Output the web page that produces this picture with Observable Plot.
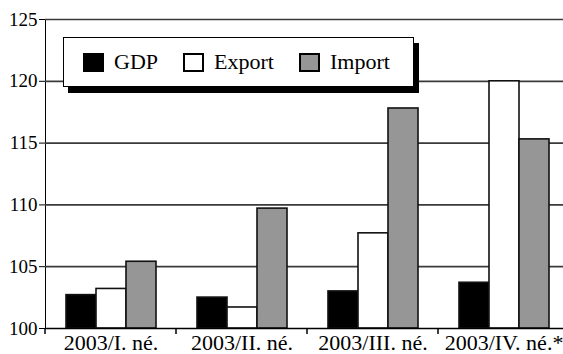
<!DOCTYPE html>
<html>
<head>
<meta charset="utf-8">
<script src="https://cdn.jsdelivr.net/npm/d3@7"></script>
<script src="https://cdn.jsdelivr.net/npm/@observablehq/plot@0.6"></script>
<style>
  html, body { margin: 0; padding: 0; background: #fff; overflow: hidden; }
  #wrap { position: relative; width: 563px; height: 354px; font-family: "Liberation Serif", "Times New Roman", serif; }
  #legend { position: absolute; left: 63px; top: 37px; width: 349px; height: 48px; background: #fff;
            border: 1.5px solid #000; box-shadow: 5px 6px 0 #000; }
  .item { position: absolute; top: 0; height: 48px; display: flex; align-items: center; font-size: 22px; }
  .sw { width: 17px; height: 15px; border: 2px solid #000; margin-right: 10px; }
</style>
</head>
<body>
<div id="wrap"></div>
<script>
const quarters = ["2003/I. né.", "2003/II. né.", "2003/III. né.", "2003/IV. né.*"];
const series = ["GDP", "Export", "Import"];
const gdp = [102.7, 102.5, 103.0, 103.7];
const exportV = [103.2, 101.7, 107.7, 120.0];
const importV = [105.4, 109.7, 117.8, 115.3];
const colors = ["#000000", "#ffffff", "#969696"];
const yTicks = [100, 105, 110, 115, 120, 125];

const values = {GDP: gdp, Export: exportV, Import: importV};
const rows = [];
quarters.forEach((q, i) => series.forEach(s => rows.push({q, s, v: values[s][i]})));

const plot = Plot.plot({
  width: 563,
  height: 354,
  marginLeft: 45,
  marginRight: -6,
  marginTop: 19,
  marginBottom: 26,
  style: {fontFamily: "'Liberation Serif', 'Times New Roman', serif", fontSize: "19px", color: "#000", background: "#fff"},
  fx: {domain: quarters, paddingInner: 0, paddingOuter: 0, axis: "bottom", tickSize: 0, tickPadding: 6, label: null},
  x: {domain: series, paddingInner: 0, paddingOuter: 0.683, axis: null},
  y: {domain: [100, 125], ticks: yTicks, tickSize: 6, tickPadding: 2, label: null, line: true},
  color: {domain: series, range: colors},
  marks: [
    Plot.ruleY(yTicks.slice(1), {stroke: "#3a3a3a", strokeWidth: 1.7}),
    Plot.barY(rows, {fx: "q", x: "s", y1: 100, y2: "v", fill: "s", stroke: "#111", strokeWidth: 1.6}),
    Plot.ruleY([100], {stroke: "#000", strokeWidth: 1.6})
  ]
});

const svg = d3.select(plot);
svg.selectAll('[aria-label^="fx-axis"]').attr("font-size", 22);

// short ticks at group boundaries on the x axis line
const fx = plot.scale("fx");
const y = plot.scale("y");
const y0 = y.apply(100);
quarters.forEach(q => {
  const xb = fx.apply(q);
  svg.append("line").attr("x1", xb).attr("x2", xb).attr("y1", y0).attr("y2", y0 + 6)
    .attr("stroke", "#000").attr("stroke-width", 1.5);
});

const wrap = document.getElementById("wrap");
wrap.appendChild(plot);

const legend = document.createElement("div");
legend.id = "legend";
const lefts = [19, 119, 235];
series.forEach((s, i) => {
  const it = document.createElement("div");
  it.className = "item";
  it.style.left = lefts[i] + "px";
  const sw = document.createElement("div");
  sw.className = "sw";
  sw.style.background = colors[i];
  const t = document.createElement("span");
  t.textContent = s;
  it.appendChild(sw);
  it.appendChild(t);
  legend.appendChild(it);
});
wrap.appendChild(legend);
</script>
</body>
</html>
